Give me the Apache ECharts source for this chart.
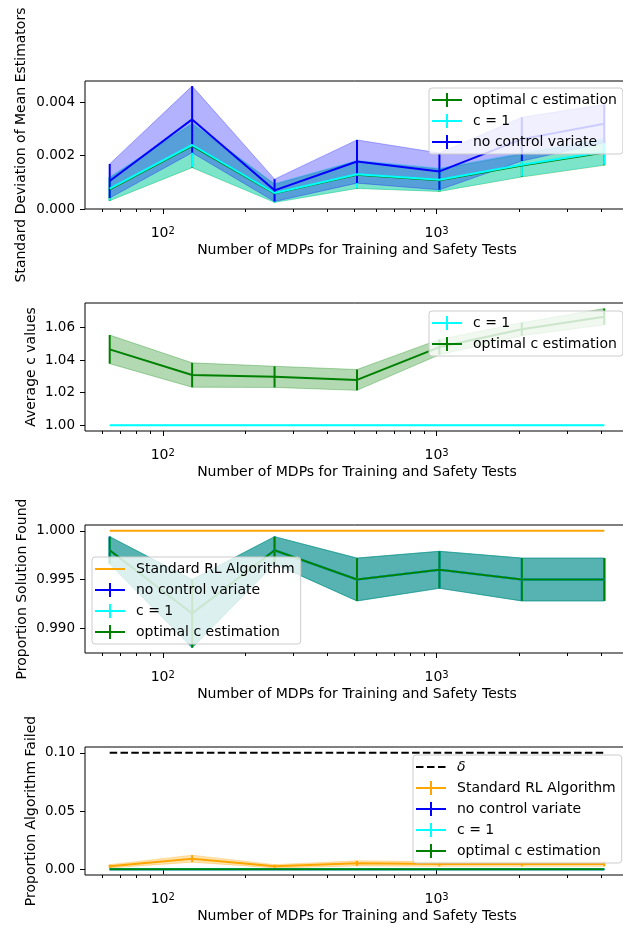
<!DOCTYPE html>
<html lang="en">
<head>
<meta charset="UTF-8">
<title>Control variate results</title>
<script src="https://cdn.jsdelivr.net/npm/echarts@6/dist/echarts.min.js"></script>
<style>
    *{margin:0;padding:0;}
    html,body{width:100%;height:100%;background:#fff;}
    #chart{width:623px;height:928px;}
</style>
</head>
<body>
<div id="chart"></div>
<script>
// x: number of MDPs
const mdps = [64, 128, 256, 512, 1024, 2048, 4096];
const majorTicks = [100, 1000];
const minorTicks = [60, 70, 80, 90, 200, 300, 400, 500, 600, 700, 800, 900, 2000, 3000, 4000, 5000];

// panel 1: standard deviation of mean estimators
const sdOpt = [0.00074, 0.00237, 0.00059, 0.00128, 0.00108, 0.00163, 0.00212];
const sdOptErr = [0.00043, 0.00082, 0.00034, 0.00051, 0.00042, 0.00043, 0.00048];
const sdC1 = [0.00076, 0.00240, 0.00060, 0.00130, 0.00110, 0.00166, 0.00215];
const sdC1Err = [0.00044, 0.00083, 0.00035, 0.00052, 0.00043, 0.00044, 0.00049];
const sdNoCV = [0.00105, 0.00336, 0.00070, 0.00178, 0.00141, 0.00262, 0.00320];
const sdNoCVErr = [0.00064, 0.00125, 0.00042, 0.00081, 0.00069, 0.00082, 0.00072];
const sdTicks = [0, 0.002, 0.004];

// panel 2: average c values
const cC1 = [1, 1, 1, 1, 1, 1, 1];
const cC1Err = [0, 0, 0, 0, 0, 0, 0];
const cOpt = [1.0466, 1.0308, 1.0297, 1.0278, 1.0480, 1.0590, 1.0667];
const cOptErr = [0.0088, 0.0075, 0.0065, 0.0064, 0.0047, 0.0040, 0.0050];
const cTicks = [1.00, 1.02, 1.04, 1.06];

// panel 3: proportion solution found
const foundStd = [1, 1, 1, 1, 1, 1, 1];
const foundCV = [0.998, 0.9915, 0.998, 0.995, 0.996, 0.995, 0.995];
const foundCVErr = [0.0014, 0.0035, 0.0014, 0.0022, 0.0019, 0.0022, 0.0022];
const foundTicks = [0.990, 0.995, 1.000];

// panel 4: proportion algorithm failed
const delta = [0.1, 0.1, 0.1, 0.1, 0.1, 0.1, 0.1];
const failStd = [0.0025, 0.009, 0.0025, 0.005, 0.0045, 0.0045, 0.0045];
const failStdErr = [0.0014, 0.0030, 0.0014, 0.0022, 0.0020, 0.0020, 0.0020];
const failCV = [0, 0, 0, 0, 0, 0, 0];
const failCVErr = [0, 0, 0, 0, 0, 0, 0];
const failTicks = [0, 0.05, 0.10];

const FONT = 'DejaVu Sans';
const FS = 14;
const GREEN = '#008000', CYAN = '#00ffff', BLUE = '#0000ff', ORANGE = '#ffa500';
const XNAME = 'Number of MDPs for Training and Safety Tests';
const tops = [81, 303, 525, 747];

let chart = echarts.init(document.getElementById('chart'));

// fill_between: one polygon drawn from the first data item
function band(g, mean, err, color) {
    return {type: 'custom', xAxisIndex: 2 * g, yAxisIndex: g, silent: true, z: 1, clip: true,
        data: mean.map((m, i) => [mdps[i], m - err[i], m + err[i]]),
        encode: {x: 0, y: [1, 2]},
        renderItem: function (params, api) {
            if (params.dataIndex !== 0) return null;
            let pts = [];
            mean.forEach((m, i) => pts.push(api.coord([mdps[i], m + err[i]])));
            for (let i = mean.length - 1; i >= 0; i--) pts.push(api.coord([mdps[i], mean[i] - err[i]]));
            return {type: 'polygon', shape: {points: pts},
                style: {fill: color, stroke: color, lineWidth: 1, opacity: 0.3}};
        }};
}

function line(g, name, mean, color, dashed) {
    return {type: 'line', name: name, xAxisIndex: 2 * g, yAxisIndex: g, symbol: 'none', silent: true, z: 2,
        data: mean.map((m, i) => [mdps[i], m]), itemStyle: {color: color},
        lineStyle: {color: color, width: 2, type: dashed ? [7.5, 3.3] : 'solid'}};
}

function errbars(g, mean, err, color) {
    return {type: 'custom', xAxisIndex: 2 * g, yAxisIndex: g, silent: true, z: 2,
        data: mean.map((m, i) => [mdps[i], m - err[i], m + err[i]]),
        encode: {x: 0, y: [1, 2]},
        renderItem: function (params, api) {
            let a = api.coord([api.value(0), api.value(1)]);
            let b = api.coord([api.value(0), api.value(2)]);
            return {type: 'line', shape: {x1: a[0], y1: a[1], x2: b[0], y2: b[1]},
                style: {stroke: color, lineWidth: 2}};
        }};
}

// line + bars + band, as matplotlib errorbar + fill_between
function curve(g, name, mean, err, color) {
    return {bands: [band(g, mean, err, color)], lines: [line(g, name, mean, color), errbars(g, mean, err, color)]};
}

let grids = tops.map(t => ({left: 85, width: 544, top: t, height: 128, show: true,
    borderColor: '#000', borderWidth: 1, backgroundColor: '#fff', containLabel: false, outerBoundsMode: 'none'}));

let xAxis = [];
tops.forEach((t, g) => {
    xAxis.push({type: 'log', logBase: 10, gridIndex: g, position: 'bottom', min: 52, max: 5042,
        axisLine: {show: false}, splitLine: {show: false},
        axisTick: {show: true, customValues: majorTicks, length: 5, lineStyle: {color: '#000', width: 1}},
        axisLabel: {customValues: majorTicks, margin: 17,
            formatter: v => '{b|10}{s|' + Math.round(Math.log10(v)) + '}',
            rich: {
                b: {fontFamily: FONT, fontSize: FS, color: '#000', lineHeight: 14, padding: [4, 0, 0, 0], verticalAlign: 'bottom'},
                s: {fontFamily: FONT, fontSize: 10, color: '#000', lineHeight: 10, verticalAlign: 'top'}
            }},
        name: XNAME, nameLocation: 'middle', nameGap: 34, nameMoveOverlap: false,
        nameTextStyle: {fontFamily: FONT, fontSize: FS, color: '#000'}});
    xAxis.push({type: 'log', logBase: 10, gridIndex: g, position: 'bottom', min: 52, max: 5042,
        axisLine: {show: false}, splitLine: {show: false},
        axisTick: {show: true, customValues: minorTicks, length: 3, lineStyle: {color: '#000', width: 1}},
        axisLabel: {show: false}});
});

function yAx(g, name, min, max, ticks, dec, gap) {
    return {type: 'value', gridIndex: g, min: min, max: max,
        axisLine: {show: false}, splitLine: {show: false},
        axisTick: {show: true, customValues: ticks, length: 5, lineStyle: {color: '#000', width: 1}},
        axisLabel: {customValues: ticks, margin: 10, formatter: v => v.toFixed(dec),
            fontFamily: FONT, fontSize: 13.5, color: '#000'},
        name: name, nameLocation: 'middle', nameGap: gap, nameMoveOverlap: false,
        nameTextStyle: {fontFamily: FONT, fontSize: FS, color: '#000'}};
}
let yAxis = [
    yAx(0, 'Standard Deviation of Mean Estimators', 0, 0.0048, sdTicks, 3, 57),
    yAx(1, 'Average c values', 0.9964, 1.0751, cTicks, 2, 47),
    yAx(2, 'Proportion Solution Found', 0.98745, 1.0006, foundTicks, 3, 56),
    yAx(3, 'Proportion Algorithm Failed', -0.005, 0.105, failTicks, 2, 47)
];

let parts = [
    // panel 1
    curve(0, 'optimal c estimation', sdOpt, sdOptErr, GREEN),
    curve(0, 'c = 1', sdC1, sdC1Err, CYAN),
    curve(0, 'no control variate', sdNoCV, sdNoCVErr, BLUE),
    // panel 2
    curve(1, 'c = 1', cC1, cC1Err, CYAN),
    curve(1, 'optimal c estimation', cOpt, cOptErr, GREEN),
    // panel 3
    {bands: [], lines: [line(2, 'Standard RL Algorithm', foundStd, ORANGE)]},
    curve(2, 'no control variate', foundCV, foundCVErr, BLUE),
    curve(2, 'c = 1', foundCV, foundCVErr, CYAN),
    curve(2, 'optimal c estimation', foundCV, foundCVErr, GREEN),
    // panel 4
    {bands: [], lines: [line(3, 'δ', delta, '#000', true)]},
    curve(3, 'Standard RL Algorithm', failStd, failStdErr, ORANGE),
    curve(3, 'no control variate', failCV, failCVErr, BLUE),
    curve(3, 'c = 1', failCV, failCVErr, CYAN),
    curve(3, 'optimal c estimation', failCV, failCVErr, GREEN)
];
let series = [];
parts.forEach(p => series.push(...p.bands));
parts.forEach(p => series.push(...p.lines));

// legend handles
const errIcon = 'path://M0,0M36,14M0,6h30v2h-30zM14,0h2v14h-2z';
const lineIcon = 'path://M0,0M36,14M0,6h30v2h-30z';
const dashIcon = 'path://M0,0M36,14M0,6h7.5v2h-7.5zM11,6h7.5v2h-7.5zM22,6h7.5v2h-7.5z';
function item(name, color, icon) {
    return {name: name, icon: icon || errIcon, itemStyle: {color: color, borderWidth: 0}};
}
function legend(left, top, data) {
    return {orient: 'vertical', left: left, top: top, data: data, selectedMode: false,
        itemWidth: 36, itemHeight: 14, itemGap: 7, padding: [5, 6, 5, 3], symbolKeepAspect: false,
        borderColor: '#cccccc', borderWidth: 1, borderRadius: 3, backgroundColor: 'rgba(255,255,255,0.8)',
        formatter: n => n === 'δ' ? '{i|δ}' : n,
        textStyle: {fontFamily: FONT, fontSize: FS, color: '#000', lineHeight: 14,
            rich: {i: {fontFamily: FONT, fontSize: FS, fontStyle: 'italic', color: '#000'}}}};
}

let option = {
    animation: false,
    backgroundColor: '#fff',
    grid: grids,
    xAxis: xAxis,
    yAxis: yAxis,
    legend: [
        legend(429, 88, [item('optimal c estimation', GREEN), item('c = 1', CYAN), item('no control variate', BLUE)]),
        legend(429, 311, [item('c = 1', CYAN), item('optimal c estimation', GREEN)]),
        legend(92, 557, [item('Standard RL Algorithm', ORANGE, lineIcon), item('no control variate', BLUE),
            item('c = 1', CYAN), item('optimal c estimation', GREEN)]),
        legend(413, 755, [item('δ', '#000', dashIcon), item('Standard RL Algorithm', ORANGE),
            item('no control variate', BLUE), item('c = 1', CYAN), item('optimal c estimation', GREEN)])
    ],
    series: series
};
chart.setOption(option);
</script>
</body>
</html>
